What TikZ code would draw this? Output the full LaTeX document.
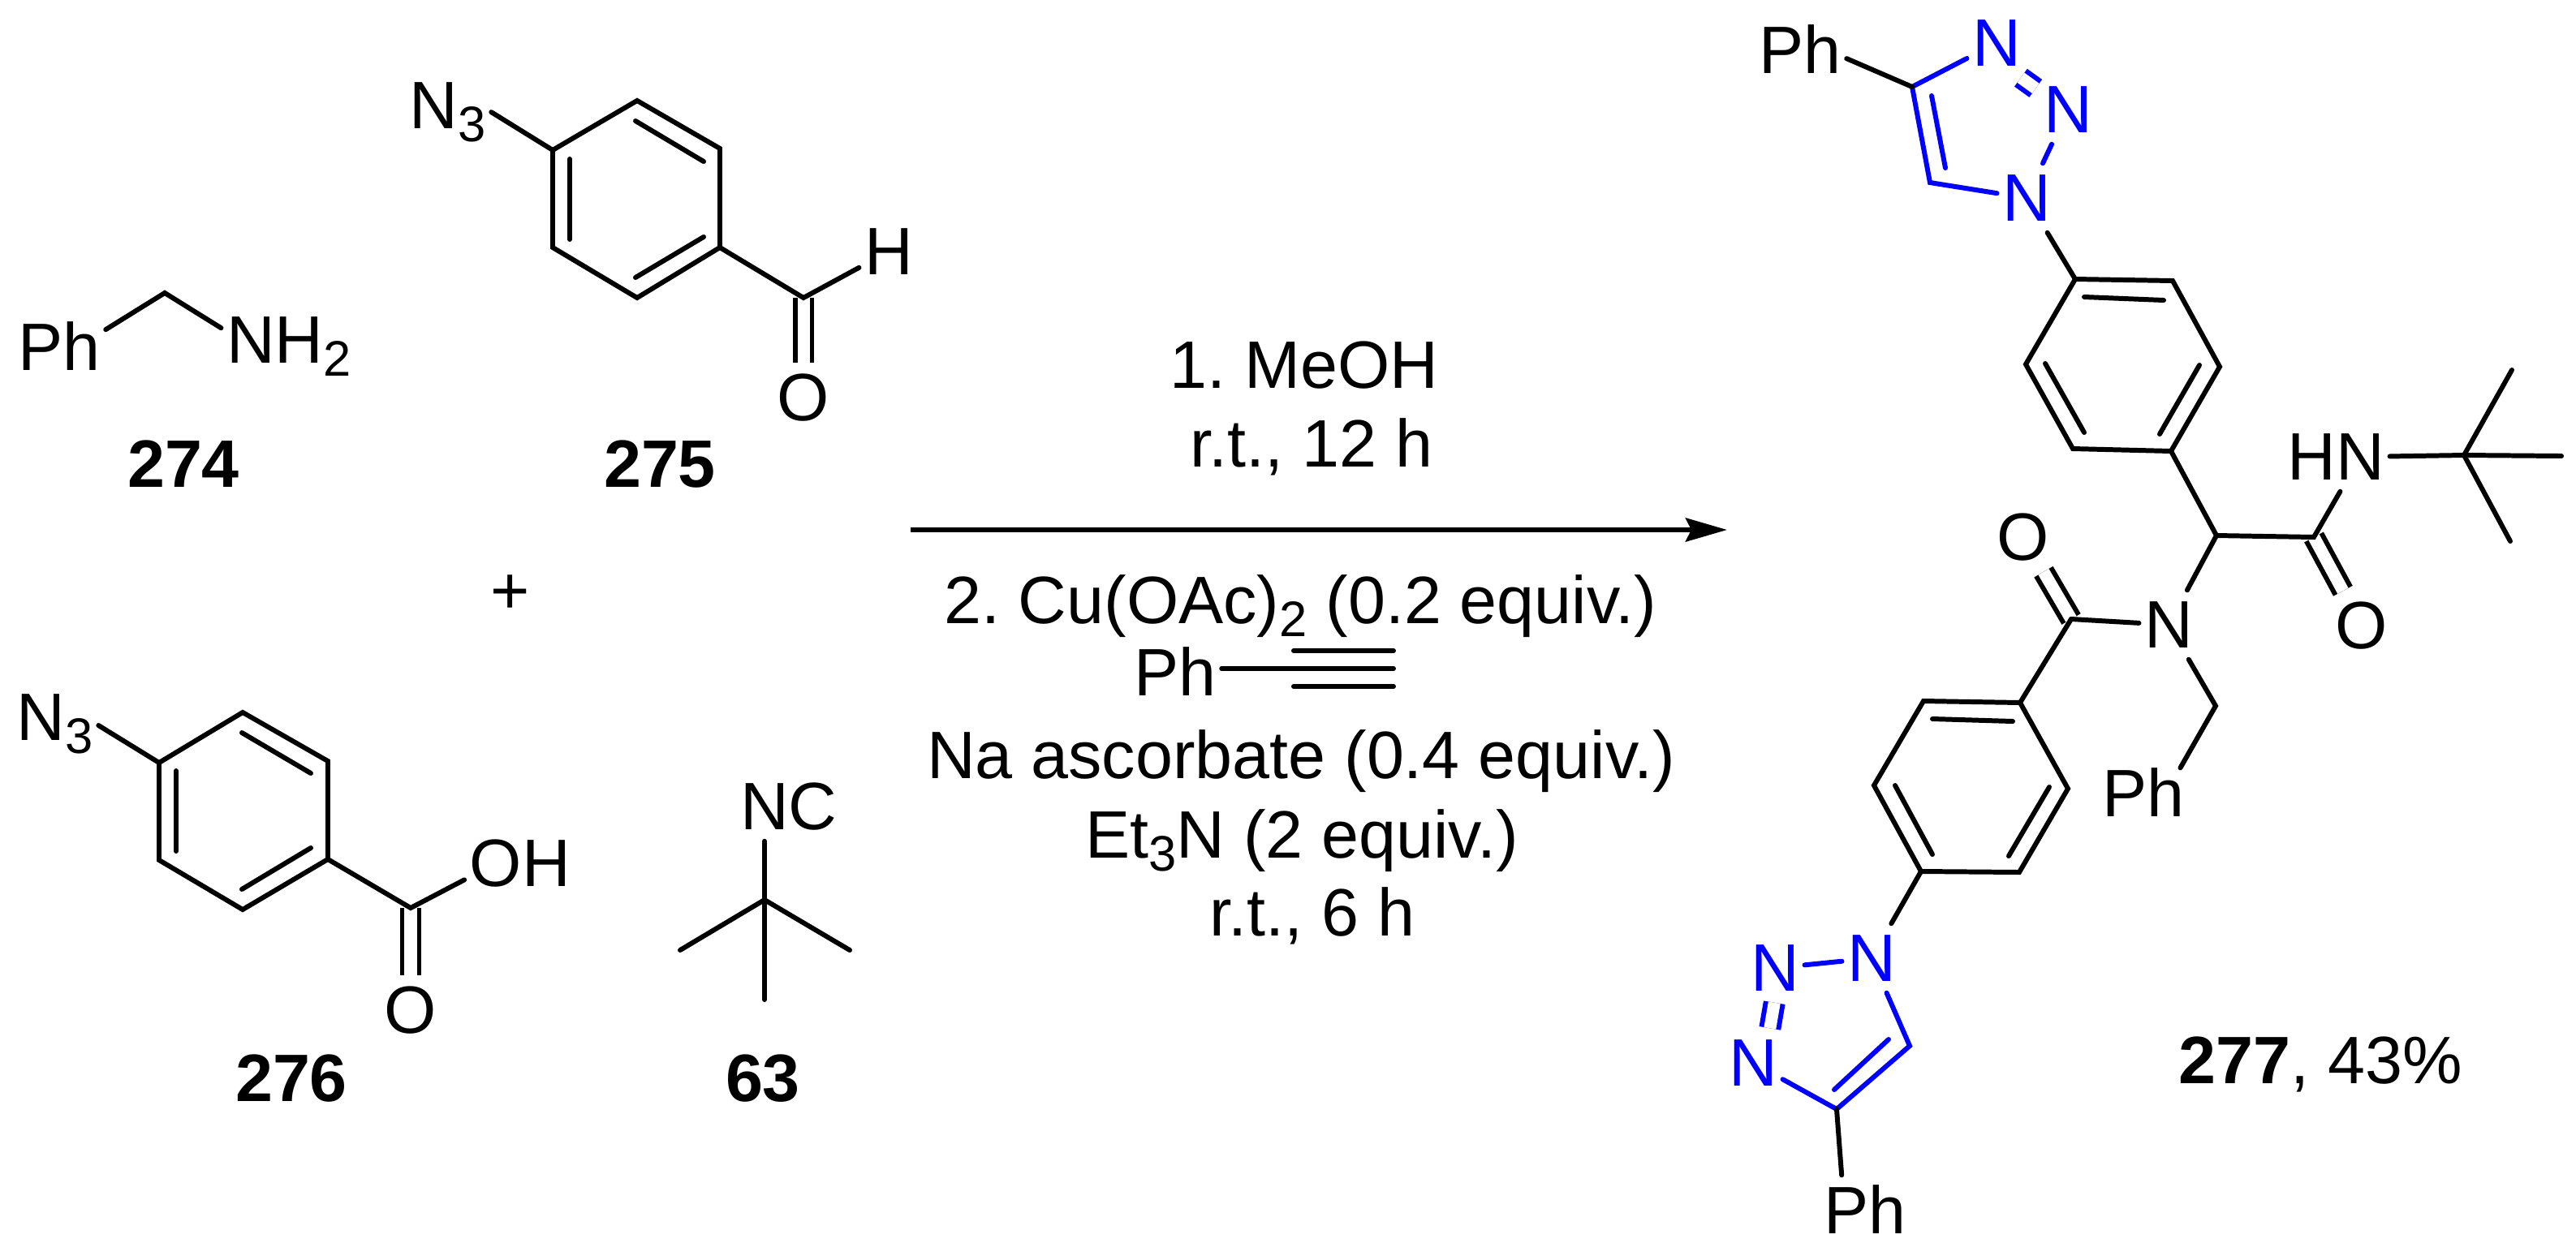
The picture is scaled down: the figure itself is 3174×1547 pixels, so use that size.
\documentclass[tikz,border=0pt]{standalone}
\usepackage{fontspec}
\setmainfont{Liberation Sans}
\frenchspacing
\usetikzlibrary{arrows.meta}
\definecolor[named]{TriBlue}{rgb}{0,0,1}
\newcommand{\chemsub}[1]{\raisebox{-0.2em}{\fontsize{17.5}{20}\selectfont #1}}
\tikzset{
  chemfont/.style={node font=\fontsize{23.5}{28}\selectfont},
  bond/.style={line width=1.7pt,line cap=round},
  dbond/.style={bond,line cap=butt,double,double distance=0.15cm},
  tbond/.style={bond,draw=TriBlue},
  tdbond/.style={dbond,draw=TriBlue},
  atom/.style={chemfont,minimum width=0.7cm,minimum height=0.84cm,inner xsep=0.06cm,inner ysep=0pt},
  tatom/.style={atom,text=TriBlue},
  cmpd/.style={chemfont,inner sep=0pt,font=\bfseries},
  cond/.style={chemfont,inner sep=0pt,anchor=base},
}

\begin{document}
\begin{tikzpicture}[x=0.01cm,y=-0.01cm]
    \useasboundingbox (0,0) rectangle (3174,1547);

    % Benzylamine
    \node[atom] (PhB) at (73,427) {Ph};
    \node[atom] (NH) at (309,427) {N\rlap{H\chemsub{2}}};
    \node[cmpd] (C274) at (226,572) {274};
    \draw[bond] (PhB.20) -- (203,361) coordinate (BC) -- (NH);

    % Azido aldehyde
    \node[atom,anchor=base west] (NA) at (498,158) {N\chemsub{3}};
    \node[atom] (HA) at (1095,310) {H};
    \node[atom] (OA) at (990,490) {O};
    \node[cmpd] (C275) at (813,572) {275};
    \coordinate (CA) at (990,367);
    \draw[dbond] (CA) -- (OA);
    \draw[bond] (681,185) coordinate (A1) -- (785,124) coordinate (A2) -- (887,183) coordinate (A3)
      -- (887,305) coordinate (A4) -- (785,367) coordinate (A5) -- (681,305) coordinate (A6) -- cycle;
    \draw[bond] (702,196) -- (702,295);
    \draw[bond] (783,149) -- (867,199);
    \draw[bond] (867,292) -- (783,342);
    \draw[bond] (NA.east) -- (A1);
    \draw[bond] (A4) -- (CA) -- (HA);

    \node[chemfont,inner sep=0pt] (plus) at (629,733) {+};

    % Azido acid
    \node[atom,anchor=base west] (NC) at (14,912) {N\chemsub{3}};
    \node[atom] (OH) at (611,1064) {O\rlap{H}};
    \node[atom] (OC) at (506,1245) {O};
    \node[cmpd] (C276) at (359,1329) {276};
    \coordinate (CC) at (506,1119);
    \draw[dbond] (CC) -- (OC);
    \draw[bond] (196,940) coordinate (C1) -- (299,878) coordinate (C2) -- (404,938) coordinate (C3)
      -- (404,1059) coordinate (C4) -- (299,1121) coordinate (C5) -- (196,1060) coordinate (C6) -- cycle;
    \draw[bond] (217,950) -- (217,1049);
    \draw[bond] (298,903) -- (383,953);
    \draw[bond] (383,1045) -- (298,1096);
    \draw[bond] (NC.-2) -- (C1);
    \draw[bond] (C4) -- (CC) -- (OH);

    % Isocyanide
    \node[atom] (NI) at (942,994) {N\rlap{C}};
    \node[cmpd] (C63) at (940,1329) {63};
    \coordinate (CI) at (942,1109);
    \draw[bond] (NI) -- (CI);
    \draw[bond] (CI) -- (838,1171) coordinate (I1);
    \draw[bond] (CI) -- (1047,1171) coordinate (I2);
    \draw[bond] (CI) -- (942,1232) coordinate (I3);

    % Conditions
    \node[cond] (L1) at (1607,478) {1. MeOH};
    \node[cond] (L2) at (1616,575) {r.t., 12 h};
    \node[cond] (L3) at (1602,768) {2. Cu(OAc)\chemsub{2} (0.2 equiv.)};
    \node[atom] (PhE) at (1448,828) {Ph};
    \node[cond] (L4) at (1603,959) {Na ascorbate (0.4 equiv.)};
    \node[cond] (L5) at (1604,1057) {Et\chemsub{3}N (2 equiv.)};
    \node[cond] (L6) at (1617,1153) {r.t., 6 h};
    \coordinate (AS) at (1122,653);
    \coordinate (AE) at (2128,653);
    \draw[bond,line cap=butt,-{Stealth[length=0.51cm,width=0.29cm,inset=0.07cm]}] (AS) -- (AE);
    \coordinate (TE) at (1717,824);
    \draw[bond] (PhE.east |- TE) -- (TE);
    \draw[bond] (1594,802) -- (1717,802);
    \draw[bond] (1594,846) -- (1717,846);

    % Upper triazole
    \node[atom] (PhA) at (2218,61) {Ph};
    \node[tatom] (T1) at (2460,53) {N};
    \node[tatom] (T2) at (2548,135) {N};
    \node[tatom] (T3) at (2497,244) {N};
    \coordinate (T4) at (2356,107);
    \coordinate (T5) at (2378,225);
    \draw[tdbond,shorten >=0.04cm] (T1.-55) -- (T2.147);
    \draw[tbond] (T2) -- (T3);
    \draw[tbond] (T1) -- (T4) -- (T5) -- (T3);
    \draw[tbond] (2380,118) -- (2397,207);
    \draw[bond] (PhA.-11) -- (T4);

    % Upper aryl
    \draw[bond] (2557,344) coordinate (R1) -- (2677,346) coordinate (R2) -- (2735,452) coordinate (R3)
      -- (2675,556) coordinate (R4) -- (2554,553) coordinate (R5) -- (2496,449) coordinate (R6) -- cycle;
    \draw[bond] (2568,366) -- (2666,370);
    \draw[bond] (2710,450) -- (2661,535);
    \draw[bond] (2520,448) -- (2568,533);
    \draw[bond] (T3) -- (R1);

    % Peptoid core
    \node[atom] (HN) at (2908,563) {\llap{H}N};
    \node[atom] (OP) at (2493,662) {O};
    \node[atom] (OQ) at (2910,771) {O};
    \node[atom] (NP) at (2672,770) {N};
    \node[atom,minimum height=0cm] (PhC) at (2641,977) {Ph};
    \coordinate (CH) at (2731,660);
    \coordinate (CQ) at (2851,662);
    \coordinate (CP) at (2552,763);
    \coordinate (CB) at (2730,870);
    \draw[dbond] (CP) -- (OP);
    \draw[dbond] (CQ) -- (OQ);
    \draw[bond] (R4) -- (CH) -- (CQ) -- (HN);
    \draw[bond] (CH) -- (NP) -- (CP);
    \draw[bond] (NP) -- (CB) -- (PhC.34);

    % tert-butyl
    \coordinate (TB) at (3036,561);
    \draw[bond] (HN) -- (TB);
    \draw[bond] (TB) -- (3095,456) coordinate (TB1);
    \draw[bond] (TB) -- (3156,562) coordinate (TB2);
    \draw[bond] (TB) -- (3093,667) coordinate (TB3);

    % Lower aryl
    \draw[bond] (2489,866) coordinate (S1) -- (2370,864) coordinate (S2) -- (2309,968) coordinate (S3)
      -- (2367,1074) coordinate (S4) -- (2488,1075) coordinate (S5) -- (2548,972) coordinate (S6) -- cycle;
    \draw[bond] (2381,886) -- (2480,889);
    \draw[bond] (2335,968) -- (2381,1053);
    \draw[bond] (2525,970) -- (2475,1055);
    \draw[bond] (CP) -- (S1);

    % Lower triazole
    \node[tatom] (U1) at (2306,1181) {N};
    \node[tatom] (U2) at (2187,1193) {N};
    \node[tatom] (U3) at (2160,1310) {N};
    \node[atom] (PhD) at (2298,1491) {Ph};
    \coordinate (U4) at (2263,1367);
    \coordinate (U5) at (2353,1289);
    \draw[tdbond] (U2.-91) -- (U3.64);
    \draw[tbond] (U1) -- (U2);
    \draw[tbond] (U3) -- (U4) -- (U5) -- (U1);
    \draw[tbond] (2260,1343) -- (2327,1281);
    \draw[bond] (U4) -- (PhD.124);
    \draw[bond] (S4) -- (U1);

    \node[chemfont,inner sep=0pt,anchor=base west] (C277) at (2684,1335) {\textbf{277}, 43\%};

\end{tikzpicture}
\end{document}
